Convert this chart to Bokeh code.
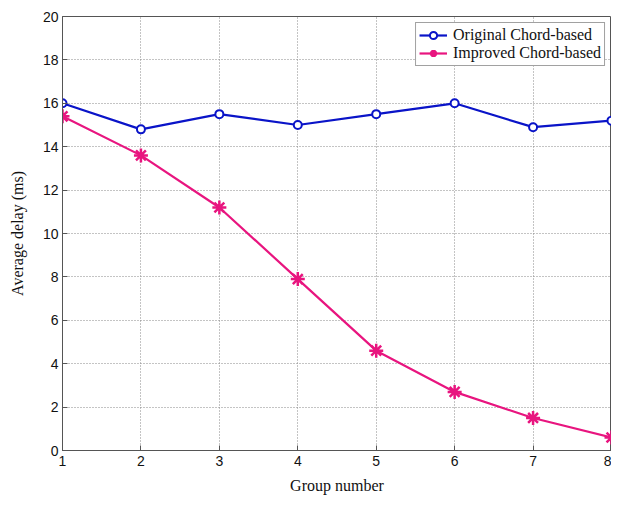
from bokeh.plotting import figure
from bokeh.models import Range1d, FixedTicker, Legend, LegendItem
from bokeh.embed import file_html
from bokeh.resources import INLINE

groups = [1, 2, 3, 4, 5, 6, 7, 8]
original = [16.0, 14.8, 15.5, 15.0, 15.5, 16.0, 14.9, 15.2]
improved = [15.4, 13.6, 11.2, 7.9, 4.6, 2.7, 1.5, 0.6]
x_ticks = [1, 2, 3, 4, 5, 6, 7, 8]
y_ticks = [0, 2, 4, 6, 8, 10, 12, 14, 16, 18, 20]

blue = "#0a14c8"
pink = "#e8157f"

p = figure(width=611, height=496, output_backend="svg", toolbar_location=None,
           x_range=Range1d(1, 8), y_range=Range1d(0, 20),
           min_border_left=62, min_border_right=0, min_border_top=16, min_border_bottom=40)

p.outline_line_color = "#555555"
p.outline_line_width = 1

for ax in (p.xaxis[0], p.yaxis[0]):
    ax.major_tick_in = 5
    ax.major_tick_out = 0
    ax.minor_tick_line_color = None
    ax.axis_line_color = "#555555"
    ax.major_tick_line_color = "#555555"
    ax.major_label_text_font = "Liberation Sans"
    ax.major_label_text_font_size = "14px"
    ax.major_label_text_color = "#111111"
    ax.axis_label_text_font = "Liberation Serif"
    ax.axis_label_text_font_size = "16px"
    ax.axis_label_text_font_style = "normal"
    ax.axis_label_text_color = "#111111"

p.xaxis.ticker = FixedTicker(ticks=x_ticks)
p.yaxis.ticker = FixedTicker(ticks=y_ticks)
p.xaxis.axis_label = "Group number"
p.yaxis.axis_label = "Average delay (ms)"
p.xaxis.major_label_standoff = 5
p.yaxis.major_label_standoff = 4
p.xaxis.axis_label_standoff = 8
p.yaxis.axis_label_standoff = 14

p.xgrid.ticker = FixedTicker(ticks=x_ticks)
p.ygrid.ticker = FixedTicker(ticks=y_ticks)
p.grid.grid_line_color = "#888888"
p.grid.grid_line_dash = "1 2"
p.grid.grid_line_width = 1

l1 = p.line(groups, original, line_color=blue, line_width=2.2)
m1 = p.scatter(groups, original, marker="circle", size=8, line_color=blue,
               fill_color="white", line_width=2)
l2 = p.line(groups, improved, line_color=pink, line_width=2.2)
m2 = p.scatter(groups, improved, marker="asterisk", size=14, line_color=pink,
               line_width=2.5)

legend = Legend(items=[
    LegendItem(label="Original Chord-based", renderers=[l1, m1]),
    LegendItem(label="Improved Chord-based", renderers=[l2, m2]),
], location="top_right")
legend.label_text_font = "Liberation Serif"
legend.label_text_font_size = "16px"
legend.label_text_color = "#111111"
legend.border_line_color = "#444444"
legend.border_line_width = 1
legend.background_fill_alpha = 1
legend.margin = 6
legend.padding = 3
legend.spacing = 0
legend.glyph_width = 28
legend.glyph_height = 18
legend.label_height = 18
legend.label_standoff = 6
p.add_layout(legend)

open("out.html", "w").write(file_html(p, INLINE))
